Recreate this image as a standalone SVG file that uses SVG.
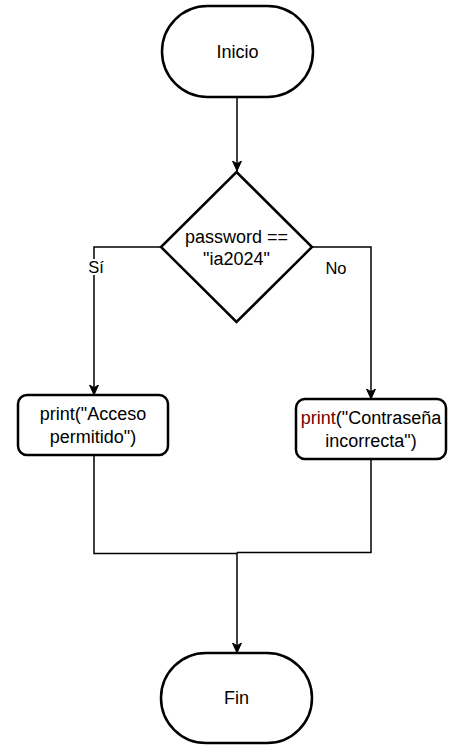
<svg xmlns="http://www.w3.org/2000/svg" width="458" height="748" viewBox="0 0 458 748">
<defs>
<marker id="arrow" viewBox="0 0 12 12" refX="11" refY="6" markerWidth="11" markerHeight="11" markerUnits="userSpaceOnUse" orient="auto">
<path d="M0,1 L11,6 L0,11 L3,6 Z" fill="#000" stroke="#000" stroke-width="1"/>
</marker>
</defs>
<style>
.shape{fill:#fff;stroke:#000;stroke-width:2.5}
.edge{fill:none;stroke:#000;stroke-width:1.5}
.t{font-family:"Liberation Sans",Arial,Helvetica,sans-serif;font-size:18px;fill:#000;text-anchor:middle}
.lbl{font-family:"Liberation Sans",Arial,Helvetica,sans-serif;font-size:16.5px;fill:#000;text-anchor:middle}
</style>
<rect width="458" height="748" fill="#fff"/>
<g id="connectors">
<path class="edge" d="M237,98 L237,171" marker-end="url(#arrow)"/>
<path class="edge" d="M161,247 L94,247 L94,395" marker-end="url(#arrow)"/>
<path class="edge" d="M312,247 L371,247 L371,399" marker-end="url(#arrow)"/>
<path class="edge" d="M94,455 L94,553.5 L237,553.5"/>
<path class="edge" d="M371,459 L371,552.5 L237,552.5"/>
<path class="edge" d="M237,552.5 L237,653" marker-end="url(#arrow)"/>
<rect x="86" y="259" width="18" height="16" fill="#fff"/>
<text class="lbl" x="96" y="273">Sí</text>
<text class="lbl" x="336" y="274">No</text>
</g>
<g id="inicio">
<rect class="shape" x="162" y="6" width="151" height="91" rx="45.5" ry="45.5"/>
<text class="t" x="237.5" y="58">Inicio</text>
</g>
<g id="decision">
<polygon class="shape" points="236.5,172 312,247 236.5,322 161,247"/>
<text class="t" x="236.5" y="243">password ==</text>
<text class="t" x="236.5" y="265">"ia2024"</text>
</g>
<g id="acceso">
<rect class="shape" x="18" y="395" width="150" height="60" rx="9" ry="9"/>
<text class="t" x="93" y="420">print("Acceso</text>
<text class="t" x="93" y="443">permitido")</text>
</g>
<g id="contrasena">
<rect class="shape" x="296" y="399" width="150" height="60" rx="9" ry="9"/>
<text class="t" x="371" y="424"><tspan fill="#7a0000">print</tspan>("Contraseña</text>
<text class="t" x="371" y="447">incorrecta")</text>
</g>
<g id="fin">
<rect class="shape" x="161" y="653" width="151" height="90" rx="45" ry="45"/>
<text class="t" x="236.5" y="704">Fin</text>
</g>
</svg>
